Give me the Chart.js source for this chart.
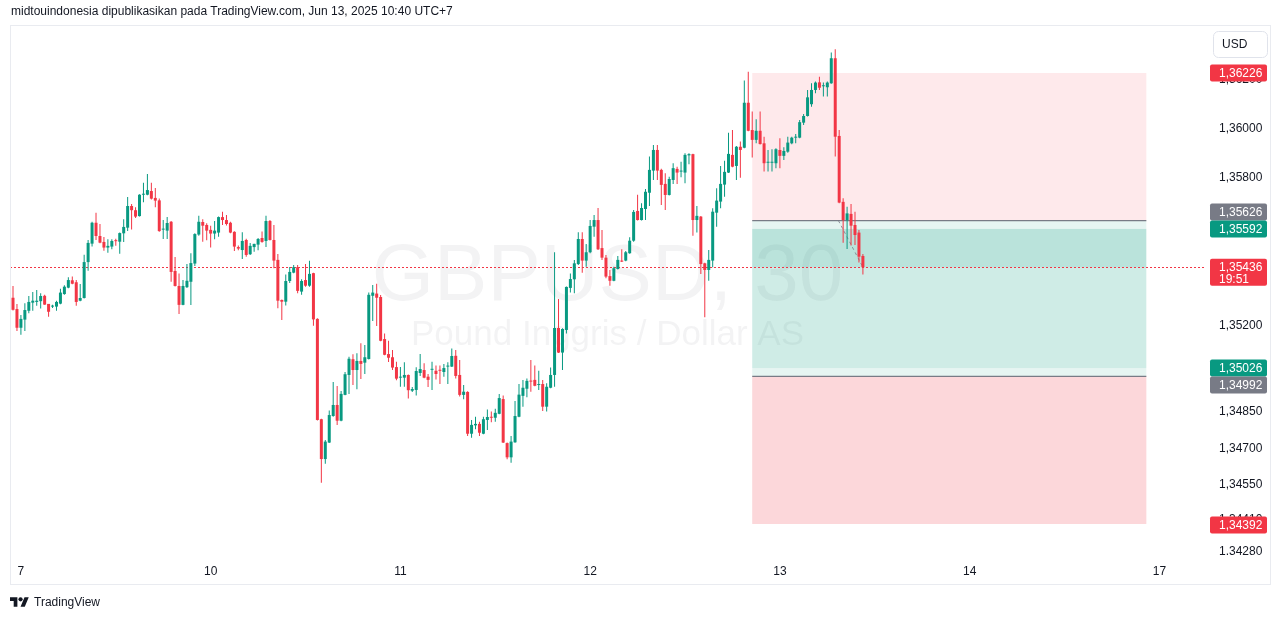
<!DOCTYPE html>
<html>
<head>
<meta charset="utf-8">
<script src="https://cdn.jsdelivr.net/npm/chart.js@4.4.1/dist/chart.umd.min.js"></script>
<style>
  body { margin: 0; background: #fff; font-family: "Liberation Sans", Arial, sans-serif; }
  #wrap { position: relative; width: 1281px; height: 620px; overflow: hidden; }
  #js--chart { position: absolute; left: 0; top: 0; }
  #header { position: absolute; left: 11px; top: 4px; font-size: 12px; color: #131722; white-space: nowrap; }
  #footer { position: absolute; left: 10px; top: 595px; font-size: 12px; color: #131722; display: flex; align-items: center; }
  #footer svg { margin-right: 5px; }
</style>
</head>
<body>
<div id="wrap">
  <canvas id="js--chart" width="1281" height="620"></canvas>
  <div id="header">midtouindonesia dipublikasikan pada TradingView.com, Jun 13, 2025 10:40 UTC+7</div>
  <div id="footer">
    <svg width="19" height="10" viewBox="0 4 36 18"><path d="M14 22H7V11H0V4h14v18zM28 22h-8l7.5-18h8L28 22z" fill="#131722"/><circle cx="20" cy="8" r="4" fill="#131722"/></svg>
    <span>TradingView</span>
  </div>
</div>
<script>
/* GBPUSD 30 menit */
const xTickIndex = [2, 50, 98, 146, 194, 242, 290];
const xTickLabels = ["7", "10", "11", "12", "13", "14", "17"];
const yTicks = [1.362, 1.360, 1.358, 1.352, 1.3485, 1.347, 1.3455, 1.3441, 1.3428];
const yTickLabels = ["1,36200", "1,36000", "1,35800", "1,35200", "1,34850", "1,34700", "1,34550", "1,34410", "1.34280"];

const open = [
  1.35312,1.35266,1.35190,1.35223,1.35259,1.35292,1.35295,1.35298,1.35320,1.35287,1.35276,1.35276,
  1.35288,1.35327,1.35353,1.35383,1.35375,1.35300,1.35311,1.35457,1.35532,1.35617,1.35563,1.35539,
  1.35516,1.35520,1.35544,1.35540,1.35574,1.35597,1.35685,1.35668,1.35644,1.35731,1.35731,1.35746,
  1.35718,1.35708,1.35589,1.35585,1.35621,1.35421,1.35360,1.35283,1.35355,1.35377,1.35451,1.35569,
  1.35620,1.35608,1.35588,1.35573,1.35577,1.35640,1.35628,1.35617,1.35580,1.35518,1.35506,1.35547,
  1.35489,1.35518,1.35528,1.35555,1.35543,1.35624,1.35547,1.35466,1.35303,1.35296,1.35380,1.35414,
  1.35436,1.35337,1.35384,1.35361,1.35412,1.35226,1.34818,1.34656,1.34723,1.34831,1.34876,1.34812,
  1.34917,1.34998,1.35062,1.35018,1.35055,1.35048,1.35063,1.35320,1.35329,1.35315,1.35144,1.35083,
  1.35070,1.35030,1.34987,1.34987,1.34998,1.34934,1.34937,1.35006,1.35018,1.34991,1.35019,1.35015,
  1.35019,1.35010,1.35032,1.35032,1.35076,1.34998,1.34917,1.34929,1.34759,1.34793,1.34799,1.34759,
  1.34815,1.34827,1.34824,1.34840,1.34900,1.34721,1.34663,1.34724,1.34828,1.34913,1.34942,1.34975,
  1.34978,1.34957,1.34961,1.34869,1.34946,1.34998,1.35189,1.35089,1.35181,1.35352,1.35387,1.35449,
  1.35551,1.35463,1.35497,1.35601,1.35628,1.35514,1.35475,1.35400,1.35381,1.35429,1.35462,1.35463,
  1.35493,1.35544,1.35665,1.35628,1.35673,1.35739,1.35829,1.35913,1.35832,1.35775,1.35730,1.35791,
  1.35836,1.35825,1.35821,1.35891,1.35896,1.35628,1.35642,1.35452,1.35425,1.35463,1.35658,1.35703,
  1.35772,1.35821,1.35893,1.35848,1.35926,1.35922,1.36105,1.35994,1.35954,1.35991,1.35940,1.35861,
  1.35861,1.35859,1.35913,1.35889,1.35906,1.35940,1.35963,1.35963,1.36024,1.36051,1.36099,1.36157,
  1.36188,1.36172,1.36168,1.36184,1.36286,1.35970,1.35702,1.35628,1.35653,1.35608,1.35577,1.35482
];
const high = [
  1.35360,1.35287,1.35242,1.35290,1.35319,1.35335,1.35344,1.35330,1.35324,1.35287,1.35284,1.35300,
  1.35349,1.35363,1.35395,1.35398,1.35384,1.35368,1.35487,1.35547,1.35621,1.35658,1.35612,1.35559,
  1.35550,1.35550,1.35552,1.35577,1.35631,1.35722,1.35693,1.35680,1.35733,1.35780,1.35815,1.35780,
  1.35758,1.35716,1.35628,1.35640,1.35624,1.35478,1.35411,1.35384,1.35449,1.35493,1.35574,1.35645,
  1.35631,1.35615,1.35605,1.35624,1.35642,1.35662,1.35649,1.35621,1.35582,1.35524,1.35578,1.35552,
  1.35535,1.35532,1.35555,1.35581,1.35645,1.35628,1.35608,1.35490,1.35305,1.35407,1.35437,1.35445,
  1.35445,1.35387,1.35449,1.35462,1.35414,1.35229,1.34820,1.34734,1.34853,1.34969,1.34953,1.34933,
  1.35010,1.35072,1.35082,1.35086,1.35127,1.35120,1.35333,1.35364,1.35369,1.35323,1.35167,1.35137,
  1.35100,1.35052,1.35030,1.35050,1.35000,1.34949,1.35029,1.35083,1.35046,1.35002,1.35052,1.35036,
  1.35036,1.35043,1.35050,1.35106,1.35100,1.35059,1.34957,1.34932,1.34815,1.34828,1.34808,1.34828,
  1.34858,1.34849,1.34861,1.34921,1.34914,1.34723,1.34750,1.34892,1.34961,1.34978,1.34984,1.35059,
  1.35036,1.35015,1.34978,1.34964,1.35028,1.35497,1.35307,1.35188,1.35358,1.35411,1.35466,1.35578,
  1.35578,1.35531,1.35628,1.35649,1.35677,1.35588,1.35486,1.35425,1.35438,1.35482,1.35509,1.35502,
  1.35558,1.35669,1.35731,1.35696,1.35754,1.35886,1.35933,1.35933,1.35837,1.35818,1.35804,1.35859,
  1.35845,1.35865,1.35900,1.35900,1.35898,1.35685,1.35644,1.35454,1.35506,1.35676,1.35757,1.35848,
  1.35869,1.35983,1.35994,1.35929,1.35947,1.36195,1.36231,1.36069,1.36038,1.36069,1.35967,1.35913,
  1.35916,1.35920,1.35961,1.35924,1.35967,1.35967,1.35978,1.36035,1.36059,1.36157,1.36184,1.36191,
  1.36211,1.36187,1.36191,1.36309,1.36323,1.35994,1.35717,1.35682,1.35693,1.35662,1.35588,1.35490
];
const low = [
  1.35260,1.35177,1.35162,1.35177,1.35249,1.35259,1.35279,1.35268,1.35284,1.35235,1.35270,1.35259,
  1.35286,1.35324,1.35351,1.35367,1.35279,1.35298,1.35309,1.35422,1.35520,1.35547,1.35534,1.35503,
  1.35495,1.35509,1.35523,1.35491,1.35539,1.35583,1.35590,1.35636,1.35642,1.35700,1.35729,1.35712,
  1.35680,1.35580,1.35551,1.35551,1.35377,1.35358,1.35246,1.35281,1.35352,1.35283,1.35441,1.35564,
  1.35540,1.35546,1.35516,1.35550,1.35560,1.35608,1.35606,1.35574,1.35502,1.35505,1.35470,1.35479,
  1.35486,1.35499,1.35505,1.35536,1.35518,1.35545,1.35432,1.35269,1.35222,1.35280,1.35372,1.35412,
  1.35330,1.35324,1.35357,1.35357,1.35198,1.34813,1.34560,1.34637,1.34721,1.34828,1.34795,1.34810,
  1.34915,1.34921,1.34957,1.34940,1.34982,1.35002,1.35061,1.35217,1.35197,1.35135,1.35078,1.35051,
  1.35018,1.34976,1.34950,1.34950,1.34902,1.34929,1.34914,1.34994,1.34985,1.34949,1.34937,1.34980,
  1.34961,1.34991,1.34961,1.35030,1.34984,1.34910,1.34899,1.34750,1.34743,1.34777,1.34750,1.34757,
  1.34774,1.34806,1.34808,1.34838,1.34721,1.34655,1.34641,1.34722,1.34826,1.34869,1.34907,1.34930,
  1.34952,1.34937,1.34851,1.34849,1.34944,1.34950,1.35087,1.35018,1.35167,1.35333,1.35330,1.35445,
  1.35414,1.35438,1.35493,1.35560,1.35506,1.35466,1.35391,1.35361,1.35379,1.35427,1.35457,1.35460,
  1.35491,1.35540,1.35626,1.35626,1.35628,1.35685,1.35791,1.35791,1.35689,1.35669,1.35728,1.35775,
  1.35775,1.35802,1.35778,1.35855,1.35564,1.35577,1.35409,1.35233,1.35381,1.35436,1.35601,1.35676,
  1.35723,1.35819,1.35843,1.35791,1.35800,1.35920,1.35989,1.35882,1.35940,1.35935,1.35825,1.35825,
  1.35825,1.35839,1.35839,1.35872,1.35902,1.35936,1.35940,1.35961,1.36015,1.36049,1.36089,1.36144,
  1.36157,1.36130,1.36130,1.36182,1.35886,1.35696,1.35536,1.35510,1.35524,1.35527,1.35455,1.35407
];
const close = [
  1.35263,1.35190,1.35226,1.35262,1.35295,1.35300,1.35300,1.35319,1.35284,1.35255,1.35279,1.35295,
  1.35333,1.35357,1.35384,1.35369,1.35295,1.35311,1.35457,1.35535,1.35617,1.35563,1.35536,1.35516,
  1.35523,1.35543,1.35542,1.35575,1.35600,1.35685,1.35668,1.35642,1.35731,1.35735,1.35750,1.35715,
  1.35707,1.35583,1.35592,1.35616,1.35417,1.35360,1.35283,1.35360,1.35381,1.35453,1.35571,1.35621,
  1.35605,1.35585,1.35573,1.35585,1.35640,1.35628,1.35612,1.35577,1.35520,1.35512,1.35543,1.35486,
  1.35523,1.35531,1.35551,1.35539,1.35624,1.35547,1.35463,1.35300,1.35296,1.35380,1.35417,1.35436,
  1.35340,1.35380,1.35361,1.35409,1.35224,1.34815,1.34656,1.34727,1.34835,1.34876,1.34812,1.34921,
  1.35001,1.35064,1.35018,1.35055,1.35043,1.35070,1.35324,1.35333,1.35312,1.35137,1.35080,1.35068,
  1.35028,1.34983,1.34990,1.34998,1.34936,1.34941,1.35014,1.35022,1.34987,1.34978,1.35022,1.35002,
  1.35015,1.35026,1.35036,1.35075,1.34994,1.34917,1.34930,1.34759,1.34795,1.34799,1.34763,1.34818,
  1.34827,1.34824,1.34844,1.34904,1.34723,1.34663,1.34727,1.34831,1.34918,1.34946,1.34974,1.34971,
  1.34954,1.34961,1.34869,1.34950,1.34998,1.35189,1.35089,1.35185,1.35356,1.35388,1.35452,1.35551,
  1.35463,1.35497,1.35604,1.35628,1.35509,1.35475,1.35398,1.35381,1.35432,1.35466,1.35459,1.35497,
  1.35544,1.35661,1.35628,1.35677,1.35743,1.35832,1.35913,1.35829,1.35771,1.35730,1.35795,1.35839,
  1.35821,1.35829,1.35893,1.35896,1.35628,1.35645,1.35449,1.35425,1.35466,1.35662,1.35707,1.35775,
  1.35824,1.35897,1.35845,1.35926,1.35913,1.36105,1.35991,1.35954,1.35991,1.35937,1.35859,1.35864,
  1.35864,1.35916,1.35889,1.35909,1.35943,1.35963,1.35967,1.36026,1.36051,1.36127,1.36157,1.36187,
  1.36166,1.36175,1.36187,1.36286,1.35967,1.35699,1.35628,1.35655,1.35605,1.35567,1.35479,1.35436
];

const lastPrice = 1.35436;
const countdown = "19:51";
// posisi short: stop, entry, target  /  posisi long: target, entry, stop
const shortLevels = [1.36226, 1.35626, 1.35026];
const longLevels = [1.35592, 1.34992, 1.34392];
const toolStart = 187;
const toolEnd = 286.7;

const UP = '#089981';
const DOWN = '#f23645';
const GREY = '#787b86';
const FONT = '"Liberation Sans", Arial, sans-serif';

Chart.defaults.font.family = FONT;

const candleColors = close.map((c, i) => c >= open[i] ? UP : DOWN);
const bodies = open.map((o, i) => ({ x: i, y: [o, close[i]] }));
const wicks = high.map((h, i) => ({ x: i, y: [low[i], h] }));

function fmt(p) {
    return p.toFixed(5).replace('.', ',');
}

function tag(ctx, yc, bg, lines) {
    const h = lines.length > 1 ? 27 : 17;
    const top = yc - 8.5;
    ctx.fillStyle = bg;
    ctx.beginPath();
    ctx.roundRect(1210, top, 57, h, 2);
    ctx.fill();
    ctx.fillStyle = '#fff';
    ctx.font = '12px ' + FONT;
    ctx.textAlign = 'left';
    ctx.textBaseline = 'middle';
    lines.forEach((t, i) => ctx.fillText(t, 1219, top + 9 + i * 12));
}

const overlay = {
    id: 'overlay',
    beforeDatasetsDraw(chart) {
        const { ctx, chartArea: a, scales: { x, y } } = chart;
        ctx.save();
        ctx.beginPath();
        ctx.rect(a.left, a.top, a.right - a.left, a.bottom - a.top);
        ctx.clip();

        // watermark
        const cx = (a.left + a.right) / 2;
        ctx.fillStyle = 'rgba(19,23,34,0.05)';
        ctx.textAlign = 'center';
        ctx.textBaseline = 'alphabetic';
        ctx.font = '80px ' + FONT;
        ctx.fillText('GBPUSD, 30', cx, 300);
        ctx.font = '35px ' + FONT;
        ctx.fillText('Pound Inggris / Dollar AS', cx, 345);

        // long / short position
        const x0 = x.getPixelForValue(toolStart);
        const x1 = x.getPixelForValue(toolEnd);
        const band = (p1, p2, color) => {
            const y1 = y.getPixelForValue(p1);
            const y2 = y.getPixelForValue(p2);
            ctx.fillStyle = color;
            ctx.fillRect(x0, Math.min(y1, y2), x1 - x0, Math.abs(y2 - y1));
        };
        band(shortLevels[0], shortLevels[1], 'rgba(242,54,69,0.11)');
        band(shortLevels[1], shortLevels[2], 'rgba(8,153,129,0.1)');
        band(longLevels[0], longLevels[1], 'rgba(8,153,129,0.1)');
        band(longLevels[1], longLevels[2], 'rgba(242,54,69,0.2)');
        band(longLevels[0], lastPrice, 'rgba(8,153,129,0.1)');

        ctx.strokeStyle = GREY;
        ctx.lineWidth = 1.3;
        [shortLevels[1], longLevels[1]].forEach(p => {
            const yy = y.getPixelForValue(p);
            ctx.beginPath();
            ctx.moveTo(x0, yy);
            ctx.lineTo(x1, yy);
            ctx.stroke();
        });

        // garis putus-putus dari entry ke harga sekarang
        ctx.strokeStyle = 'rgba(120,123,134,0.8)';
        ctx.lineWidth = 1;
        ctx.setLineDash([3, 3]);
        ctx.beginPath();
        ctx.moveTo(x.getPixelForValue(208.8), y.getPixelForValue(shortLevels[1]));
        ctx.lineTo(x.getPixelForValue(215), y.getPixelForValue(lastPrice));
        ctx.stroke();

        // harga terakhir
        const yl = Math.round(y.getPixelForValue(lastPrice)) + 0.5;
        ctx.strokeStyle = DOWN;
        ctx.setLineDash([2, 2]);
        ctx.beginPath();
        ctx.moveTo(Math.round(a.left), yl);
        ctx.lineTo(Math.round(a.right), yl);
        ctx.stroke();
        ctx.restore();
    },
    afterDraw(chart) {
        const { ctx, scales: { y } } = chart;
        ctx.save();
        // bingkai
        ctx.strokeStyle = '#e9ebf0';
        ctx.lineWidth = 1;
        ctx.strokeRect(10.5, 25.5, 1260, 559);

        // USD
        ctx.fillStyle = '#fff';
        ctx.strokeStyle = '#e0e3eb';
        ctx.beginPath();
        ctx.roundRect(1213.5, 31.5, 54, 26, 5);
        ctx.fill();
        ctx.stroke();
        ctx.fillStyle = '#131722';
        ctx.font = '12px ' + FONT;
        ctx.textAlign = 'left';
        ctx.textBaseline = 'middle';
        ctx.fillText('USD', 1222, 44.5);

        const py = p => y.getPixelForValue(p);
        tag(ctx, py(shortLevels[0]), DOWN, [fmt(shortLevels[0])]);
        tag(ctx, py(shortLevels[1]) - 8.5, GREY, [fmt(shortLevels[1])]);
        tag(ctx, py(longLevels[0]), UP, [fmt(longLevels[0])]);
        tag(ctx, py(lastPrice), DOWN, [fmt(lastPrice), countdown]);
        tag(ctx, py(shortLevels[2]), UP, [fmt(shortLevels[2])]);
        tag(ctx, py(longLevels[1]) + 8.5, GREY, [fmt(longLevels[1])]);
        tag(ctx, py(longLevels[2]) + 1, DOWN, [fmt(longLevels[2])]);
        ctx.restore();
    }
};

const data = {
    datasets: [
        {
            label: 'body',
            data: bodies,
            backgroundColor: candleColors,
            barThickness: 3,
            maxBarThickness: 3,
            minBarLength: 1,
            inflateAmount: 0,
            grouped: false
        },
        {
            label: 'wick',
            data: wicks,
            backgroundColor: candleColors,
            barThickness: 1,
            maxBarThickness: 1,
            minBarLength: 1,
            inflateAmount: 0,
            grouped: false
        }
    ]
};

const config = {
    type: 'bar',
    data: data,
    options: {
        responsive: false,
        animation: false,
        devicePixelRatio: 1,
        layout: { padding: { left: 10, top: 26, right: 10, bottom: 36 } },
        plugins: { legend: { display: false }, tooltip: { enabled: false } },
        scales: {
            x: {
                type: 'linear',
                min: -0.76,
                max: 301.54,
                offset: false,
                grid: { display: false, drawTicks: false },
                border: { display: false },
                afterBuildTicks: s => { s.ticks = xTickIndex.map(v => ({ value: v })); },
                afterFit: s => { s.height = 24; },
                ticks: {
                    autoSkip: false,
                    maxRotation: 0,
                    padding: 4,
                    color: '#131722',
                    font: { size: 12 },
                    callback: (v, i) => xTickLabels[i]
                }
            },
            y: {
                position: 'right',
                min: 1.342455,
                max: 1.364171,
                grid: { display: false, drawTicks: false },
                border: { display: false },
                afterBuildTicks: s => { s.ticks = yTicks.map(v => ({ value: v })); },
                afterFit: s => { s.width = 66; },
                ticks: {
                    autoSkip: false,
                    padding: 14,
                    color: '#131722',
                    font: { size: 12 },
                    callback: (v, i) => yTickLabels[i]
                }
            }
        }
    },
    plugins: [overlay]
};

new Chart(document.getElementById('js--chart'), config);
</script>
</body>
</html>
